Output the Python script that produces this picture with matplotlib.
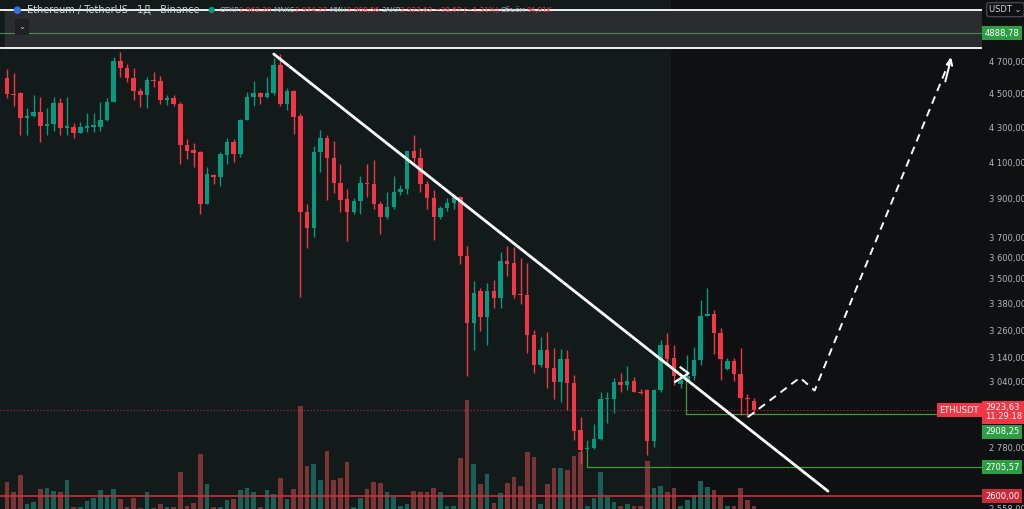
import matplotlib
matplotlib.use("Agg")
import matplotlib.pyplot as plt
import numpy as np
from matplotlib.ticker import FixedLocator, NullLocator

opens = [4599,4500,4506,4357,4368,4392,4310,4321,4446,4298,4304,4269,4298,4304,4304,4345,4452,4706,4662,4599,
         4518,4494,4586,4580,4464,4476,4440,4200,4166,4155,3874,4029,4018,4139,4212,4144,4345,4482,4506,4482,
         4506,4681,4440,4518,4368,3833,3750,4155,4240,4122,3985,3900,3833,3890,3985,3980,3874,3806,3858,3937,
         3953,4161,4122,3980,3905,3806,3853,3879,3911,3610,3293,3441,3320,3441,3406,3586,3572,3425,3420,3240,
         3112,3173,3099,3037,3137,3033,2846,2775,2778,2812,2968,2968,3037,3025,3041,2996,3004,2805,3004,3197,
         3141,3029,3045,3065,3133,3327,3333,3249,3095,3128,3074,2972,2962.20]
highs = [4656,4630,4512,4416,4494,4482,4416,4482,4476,4482,4327,4333,4386,4386,4452,4476,4732,4764,4687,4662,
         4537,4605,4637,4612,4494,4494,4452,4229,4206,4161,4072,4034,4155,4240,4229,4351,4512,4580,4512,4605,
         4726,4751,4537,4525,4386,3874,4189,4286,4257,4218,4089,3953,3905,4023,4089,4111,3890,3937,4023,3975,
         4161,4252,4178,3996,3948,3864,3905,3921,3916,3660,3488,3453,3476,3494,3630,3660,3655,3596,3572,3262,
         3232,3254,3184,3178,3175,3070,2897,2808,2870,2996,2996,3057,3078,3107,3061,3008,3008,3008,3219,3249,
         3197,3070,3154,3188,3397,3453,3351,3271,3141,3141,3184,2988,2974.27]
lows = [4476,4428,4257,4257,4362,4212,4257,4280,4257,4257,4240,4269,4275,4275,4280,4339,4452,4605,4574,4464,
        4422,4416,4543,4440,4434,4428,4089,4117,4072,3822,3874,3980,3969,4089,4100,4128,4345,4428,4440,4476,
        4494,4428,4404,4263,3413,3650,3705,4045,3895,3932,3833,3685,3822,3822,3911,3848,3720,3796,3848,3921,
        3927,4100,3937,3848,3690,3796,3837,3848,3567,3065,3175,3258,3197,3360,3360,3511,3406,3378,3162,3078,
        3103,3016,2968,2956,2924,2808,2719,2771,2775,2808,2874,2912,2996,3004,2996,2988,2752,2782,2996,3116,
        3025,3016,3045,3049,3112,3327,3158,3049,3091,3045,2904,2897,2908.56]
closes = [4500,4494,4357,4368,4392,4310,4321,4446,4298,4304,4269,4304,4304,4310,4345,4452,4706,4662,4599,4518,
          4494,4586,4580,4464,4476,4440,4195,4161,4150,3874,4034,4018,4144,4212,4144,4345,4482,4506,4482,4506,
          4681,4440,4518,4362,3833,3750,4155,4240,4122,3985,3895,3833,3890,3985,3980,3874,3806,3858,3937,3953,
          4161,4122,3980,3905,3806,3853,3879,3911,3610,3293,3429,3320,3441,3406,3586,3567,3420,3420,3240,3112,
          3173,3099,3037,3137,3033,2843,2771,2778,2812,2968,2972,3037,3025,3041,2996,2992,2805,3004,3197,3137,
          3065,3049,3065,3133,3327,3333,3249,3137,3128,3074,2972,2968,2923.63]
volumes = [27,17,34,5,7,20,21,18,17,29,2,2,8,11,19,14,20,10,2,11,1,17,1,5,2,2,37,3,6,55,25,2,2,9,10,19,21,17,2,19,
           15,31,10,20,103,43,45,29,58,29,31,47,2,11,20,27,
           26,17,12,3,5,18,17,17,21,17,3,3,51,109,45,25,35,6,16,26,32,23,57,52,5,25,41,41,39,53,57,3,11,37,12,7,3,5,3,3,
           48,21,23,17,21,3,9,14,28,22,19,12,3,3,21,9,3]

y_ticks = [4700,4500,4300,4100,3900,3700,3600,3500,3380,3260,3140,3040,2780,2558]
trend_x = [40.0, 123.1]
trend_y = [4751, 2619]
path_x = [111.1, 118.9, 121.1, 141.7]
path_y = [2897, 3057, 3004, 4745]
level_top = 4888.78
range_hi, range_lo = 5045, 4789
last_price = 2923.63
lvl_a, lvl_a_x = 2908.25, 101.8
lvl_b, lvl_b_x = 2705.57, 87.0
lvl_red = 2600.00

RED, GREEN = '#f23645', '#089981'
VRED, VGREEN = '#7a3434', '#1a5f56'
n = len(opens)
x = np.arange(n)

fig = plt.figure(figsize=(10.24, 5.09), dpi=100)
fig.patch.set_facecolor('#0f1011')
rect = [0, 0, 982/1024, 1]
xl = (-1.05, 146.2)

axv = fig.add_axes(rect)
axv.set_facecolor('#0f1011')
axv.set_xlim(*xl); axv.set_ylim(0, 509)
axv.axvspan(xl[0], 99.4, color='#131a1a', zorder=0)
vcol = [VGREEN if c >= o else VRED for o, c in zip(opens, closes)]
axv.bar(x, volumes, width=0.7, color=vcol, zorder=1)
axv.axis('off')

ax = fig.add_axes(rect)
ax.set_facecolor('none')
ax.set_yscale('log')
ax.set_xlim(*xl)
ax.set_ylim(2556, 5114)
for s in ax.spines.values():
    s.set_visible(False)
ax.xaxis.set_major_locator(NullLocator())
ax.yaxis.tick_right()
ax.yaxis.set_major_locator(FixedLocator(y_ticks))
ax.yaxis.set_minor_locator(NullLocator())
ax.set_yticklabels([f"{v:,.2f}".replace(',', ' ').replace('.', ',') for v in y_ticks],
                   color='#b2b5be', fontsize=6)
ax.tick_params(axis='y', length=0, pad=5)

# top range box
ax.axhspan(range_lo, range_hi, xmin=5/982, color='#2a2d30', zorder=1)
ax.axhline(range_hi, color='white', lw=1.3, zorder=2)
ax.axhline(range_lo, color='white', lw=1.3, zorder=2)
ax.axhline(level_top, color='#4a8a4a', lw=0.8, zorder=2)

for i in range(n):
    c = GREEN if closes[i] >= opens[i] else RED
    ax.vlines(x[i], lows[i], highs[i], color=c, lw=1, zorder=3)
    lo, hi = sorted([opens[i], closes[i]])
    if hi / lo < 1.0015:
        hi = lo * 1.0015
    ax.bar(x[i], hi - lo, bottom=lo, width=0.68, color=c, zorder=4)

ax.axhline(last_price, color=RED, lw=0.8, ls=(0, (1, 2)), alpha=0.7, zorder=2)
ax.plot([lvl_a_x, xl[1]], [lvl_a, lvl_a], color='#3f9a3f', lw=0.9, zorder=2)
ax.plot([lvl_a_x, lvl_a_x], [lvl_a, 3052], color='#3f9a3f', lw=0.9, zorder=2)
ax.plot([lvl_b_x, xl[1]], [lvl_b, lvl_b], color='#3f9a3f', lw=0.9, zorder=2)
ax.plot([lvl_b_x, lvl_b_x], [lvl_b, 2780], color='#3f9a3f', lw=0.9, zorder=2)
ax.axhline(lvl_red, color='#d02c3c', lw=1.2, zorder=2)

ax.plot(trend_x, trend_y, color='white', lw=2, zorder=5, solid_capstyle='round')
ax.plot(path_x, path_y, color='white', lw=1.4, ls=(0, (4, 3)), zorder=5)
ax.annotate('', xy=(path_x[-1], path_y[-1]), xytext=(140.6, 4560),
            arrowprops=dict(arrowstyle='->', color='white', lw=1.4), zorder=5)
ax.plot([100.2, 102.2, 101.0], [3040, 3075, 3100], color='white', lw=1.6, zorder=5)

# right price labels
bx = 1.003
def lab(yv, txt, fc):
    ax.text(bx, yv, txt, transform=ax.get_yaxis_transform(), ha='left', va='center',
            fontsize=6, color='white', bbox=dict(boxstyle='square,pad=0.3', fc=fc, ec='none'), zorder=10,
            clip_on=False)
lab(level_top, '4888,78', '#2e9e44')
ax.text(bx, 0.190, '2923,63\n11:29:18', transform=ax.transAxes, ha='left', va='center', fontsize=6,
        color='white', linespacing=1.0, bbox=dict(boxstyle='square,pad=0.3', fc=RED, ec='none'), zorder=11)
ax.text(0.997, 0.194, 'ETHUSDT', transform=ax.transAxes, ha='right', va='center', fontsize=6,
        color='white', bbox=dict(boxstyle='square,pad=0.3', fc=RED, ec='none'), zorder=11)
ax.text(bx, 0.152, '2908,25', transform=ax.transAxes, ha='left', va='center', fontsize=6,
        color='white', bbox=dict(boxstyle='square,pad=0.3', fc='#2e9e44', ec='none'), zorder=11)
lab(lvl_b, '2705,57', '#2e9e44')
lab(lvl_red, '2600,00', '#c82a3a')
fig.text(0.966, 0.981, 'USDT ⌄', fontsize=6, color='#d1d4dc', va='center',
         bbox=dict(boxstyle='round,pad=0.3', fc='#0f1011', ec='#434651'))

# header
fig.canvas.draw()
r = fig.canvas.get_renderer()
fig.text(0.012, 0.981, '●', fontsize=7, color='#3a6fd8', va='center')
t0 = fig.text(0.026, 0.981, 'Ethereum / TetherUS · 1Д · Binance', fontsize=7, color='#d1d4dc', va='center')
xp = 0.026 + t0.get_window_extent(r).width / 1024 + 0.008
fig.text(xp, 0.981, '●', fontsize=6, color=GREEN, va='center')
xp += 0.012
parts = [('ОТКР', '#b2b5be'), ('2 962,20 ', RED), ('МАКС', '#b2b5be'), ('2 974,27 ', RED),
         ('МИН', '#b2b5be'), ('2 908,56 ', RED), ('ЗАКР', '#b2b5be'), ('2 923,63 −38,67 (−1,31%) ', RED),
         ('Объём', '#b2b5be'), ('94,81K', RED)]
for t, c in parts:
    tt = fig.text(xp, 0.981, t, fontsize=5.2, color=c, va='center')
    xp += tt.get_window_extent(r).width / 1024
fig.text(0.018, 0.947, '⌄', fontsize=6, color='#d1d4dc', va='center',
         bbox=dict(boxstyle='square,pad=0.4', fc='#1e2124', ec='none'))

fig.savefig('out.png', dpi=100, facecolor=fig.get_facecolor())
